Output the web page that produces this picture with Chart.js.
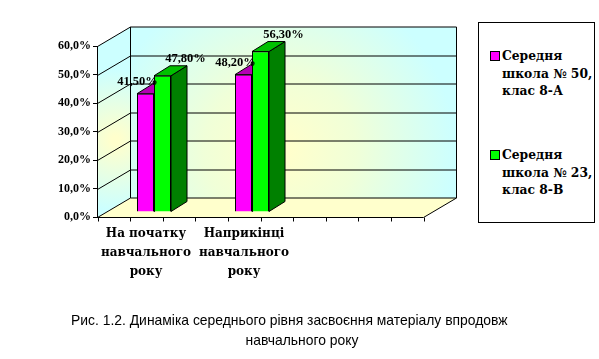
<!DOCTYPE html>
<html>
<head>
<meta charset="utf-8">
<script src="https://cdn.jsdelivr.net/npm/chart.js@4.4.1/dist/chart.umd.min.js"></script>
<style>
  html, body { margin: 0; padding: 0; background: #fff; }
  #wrap { position: relative; width: 599px; height: 359px; overflow: hidden; }
  #c { position: absolute; left: 0; top: 0; }
  #legend { position: absolute; left: 478px; top: 22px; width: 117px; height: 201px;
            border: 1px solid #000; background: #fff; box-sizing: border-box; }
  .item { position: absolute; left: 23px; font: bold 12.3px "DejaVu Serif", serif; line-height: 17.5px; color: #000; white-space: nowrap; }
  .sw { position: absolute; left: 11px; width: 8px; height: 8px; border: 1px solid #000; }
  .cap { position: absolute; font: 13.9px "Liberation Sans", Arial, sans-serif; color: #000; white-space: nowrap; line-height: 16px; }
</style>
</head>
<body>
<div id="wrap">
  <canvas id="c" width="599" height="359"></canvas>
  <div id="legend"></div>
  <div class="cap" id="cap1" style="left:71px; top:312px;"></div>
  <div class="cap" id="cap2" style="left:0; width:604px; text-align:center; top:332px;"></div>
</div>
<script>
// ---- data ----
const categories = [['На початку', 'навчального', 'року'], ['Наприкінці', 'навчального', 'року']];
const seriesNames = [['Середня', 'школа № 50,', 'клас 8-А'], ['Середня', 'школа № 23,', 'клас 8-В']];
const school50 = [41.5, 48.2];
const school23 = [47.8, 56.3];
const yTickValues = [0, 10, 20, 30, 40, 50, 60];
const captionLines = ['Рис. 1.2. Динаміка середнього рівня засвоєння матеріалу впродовж', 'навчального року'];

// ---- styles ----
const frontColors = ['#FF00FF', '#00FF00'];
const topColors = ['#B400B4', '#00C000'];
const sideColors = ['#990099', '#008000'];
const WALL_DX = 33, WALL_DY = 19.5;   // depth of the 3D box
const BAR_DX = 8, BAR_DY = -5;        // bar plane shift into the box
const FACE_DX = 16, FACE_DY = 10;     // bar depth
const FRAME_CATS = 3.33;              // floor length in category widths
const LABEL_OFF = [{dx: -8, dy: -12}, {dx: 23, dy: -17}];

function fmtAxis(v) { return v.toFixed(1).replace('.', ',') + '%'; }
function fmtVal(v) { return v.toFixed(2).replace('.', ',') + '%'; }

// legend
const legend = document.getElementById('legend');
seriesNames.forEach((lines, i) => {
  const top = i === 0 ? 24 : 123;
  const sw = document.createElement('div');
  sw.className = 'sw'; sw.style.top = (top + 4) + 'px'; sw.style.background = frontColors[i];
  legend.appendChild(sw);
  const t = document.createElement('div');
  t.className = 'item'; t.style.top = top + 'px';
  t.innerHTML = lines.join('<br>');
  legend.appendChild(t);
});
document.getElementById('cap1').textContent = captionLines[0];
document.getElementById('cap2').textContent = captionLines[1];

function poly(ctx, pts, fill, stroke) {
  ctx.beginPath();
  ctx.moveTo(pts[0][0], pts[0][1]);
  for (let i = 1; i < pts.length; i++) ctx.lineTo(pts[i][0], pts[i][1]);
  ctx.closePath();
  if (fill) { ctx.fillStyle = fill; ctx.fill(); }
  if (stroke) { ctx.strokeStyle = stroke; ctx.lineWidth = 1; ctx.stroke(); }
}
function line(ctx, x1, y1, x2, y2) {
  ctx.beginPath(); ctx.moveTo(x1, y1); ctx.lineTo(x2, y2);
  ctx.strokeStyle = '#000'; ctx.lineWidth = 1; ctx.stroke();
}

const threeD = {
  id: 'threeD',
  beforeDraw(chart) {
    const {ctx, chartArea: a, scales: {x, y}} = chart;
    const catW = a.width / categories.length;
    const L = Math.round(a.left) + 0.5;
    const R = Math.round(a.left + catW * FRAME_CATS) + 0.5;
    const y0 = Math.round(y.getPixelForValue(0)) + 0.5;
    const yT = Math.round(y.getPixelForValue(60)) + 0.5;
    const dx = WALL_DX, dy = WALL_DY;
    ctx.save();
    // back wall
    const g = ctx.createRadialGradient(280, 150, 10, 280, 150, 175);
    g.addColorStop(0, '#FFFFCC'); g.addColorStop(0.4, '#F0FFD8'); g.addColorStop(1, '#CCFFFF');
    poly(ctx, [[L + dx, yT - dy], [R + dx, yT - dy], [R + dx, y0 - dy], [L + dx, y0 - dy]], g, null);
    // left wall
    const g2 = ctx.createRadialGradient(L + 18, 140, 4, L + 18, 140, 70);
    g2.addColorStop(0, '#FFFFCC'); g2.addColorStop(1, '#CCFFFF');
    poly(ctx, [[L, yT], [L + dx, yT - dy], [L + dx, y0 - dy], [L, y0]], g2, null);
    // floor
    poly(ctx, [[L, y0], [L + dx, y0 - dy], [R + dx, y0 - dy], [R, y0]], '#FFFFCC', null);
    // grid lines
    yTickValues.forEach(v => {
      const py = Math.round(y.getPixelForValue(v)) + 0.5;
      line(ctx, L, py, L + dx, py - dy);
      line(ctx, L + dx, py - dy, R + dx, py - dy);
    });
    line(ctx, L + dx, yT - dy, L + dx, y0 - dy);
    line(ctx, R + dx, yT - dy, R + dx, y0 - dy);
    line(ctx, R, y0, R + dx, y0 - dy);
    line(ctx, L, y0, R, y0);
    // x tick marks
    for (let i = 0; i <= 10; i++) {
      const px = Math.round(L + (R - L) * i / 10) + 0.5;
      line(ctx, px, y0, px, y0 + 4);
    }
    ctx.restore();
  },
  beforeDatasetsDraw(chart) {
    const ctx = chart.ctx;
    ctx.save();
    ctx.translate(BAR_DX, BAR_DY);
    for (let c = 0; c < categories.length; c++) {
      chart.data.datasets.forEach((ds, di) => {
        const el = chart.getDatasetMeta(di).data[c];
        const {x, y, base, width} = el.getProps(['x', 'y', 'base', 'width'], true);
        const l = x - width / 2, r = x + width / 2;
        poly(ctx, [[r, y], [r + FACE_DX, y - FACE_DY], [r + FACE_DX, base - FACE_DY], [r, base]], sideColors[di], '#000');
        poly(ctx, [[l, y], [r, y], [r + FACE_DX, y - FACE_DY], [l + FACE_DX, y - FACE_DY]], topColors[di], '#000');
      });
    }
  },
  afterDatasetsDraw(chart) {
    const ctx = chart.ctx;
    ctx.restore();
    ctx.save();
    ctx.font = 'bold 12.5px "Liberation Serif", serif';
    ctx.fillStyle = '#000';
    ctx.textAlign = 'center';
    ctx.textBaseline = 'middle';
    chart.data.datasets.forEach((ds, di) => {
      chart.getDatasetMeta(di).data.forEach((el, i) => {
        const {x, y} = el.getProps(['x', 'y'], true);
        ctx.fillText(fmtVal(ds.data[i]), x + BAR_DX + LABEL_OFF[di].dx, y + BAR_DY + LABEL_OFF[di].dy);
      });
    });
    ctx.restore();
  }
};

new Chart(document.getElementById('c'), {
  type: 'bar',
  data: {
    labels: categories,
    datasets: [
      {label: seriesNames[0].join(' '), data: school50, backgroundColor: frontColors[0], borderColor: '#000', borderWidth: 1, clip: false},
      {label: seriesNames[1].join(' '), data: school23, backgroundColor: frontColors[1], borderColor: '#000', borderWidth: 1, clip: false}
    ]
  },
  options: {
    responsive: false,
    animation: false,
    events: [],
    categoryPercentage: 0.347,
    barPercentage: 1,
    layout: {padding: {left: 52, right: 306, top: 46, bottom: 72}},
    plugins: {legend: {display: false}, tooltip: {enabled: false}, title: {display: false}},
    scales: {
      x: {
        grid: {display: false, drawTicks: false},
        border: {display: false},
        ticks: {color: '#000', padding: 7, maxRotation: 0, autoSkip: false,
                font: {family: '"DejaVu Serif", serif', weight: 'bold', size: 12, lineHeight: '19px'}},
        afterFit(s) { s.height = 70; }
      },
      y: {
        min: 0, max: 60,
        afterBuildTicks(s) { s.ticks = yTickValues.map(v => ({value: v})); },
        grid: {drawOnChartArea: false, drawTicks: true, tickLength: 4, color: '#000'},
        border: {display: true, color: '#000', width: 1},
        ticks: {color: '#000', padding: 2, callback: v => fmtAxis(v),
                font: {family: '"Liberation Serif", serif', weight: 'bold', size: 12}},
        afterFit(s) { s.width = 45; }
      }
    }
  },
  plugins: [threeD]
});
</script>
</body>
</html>
